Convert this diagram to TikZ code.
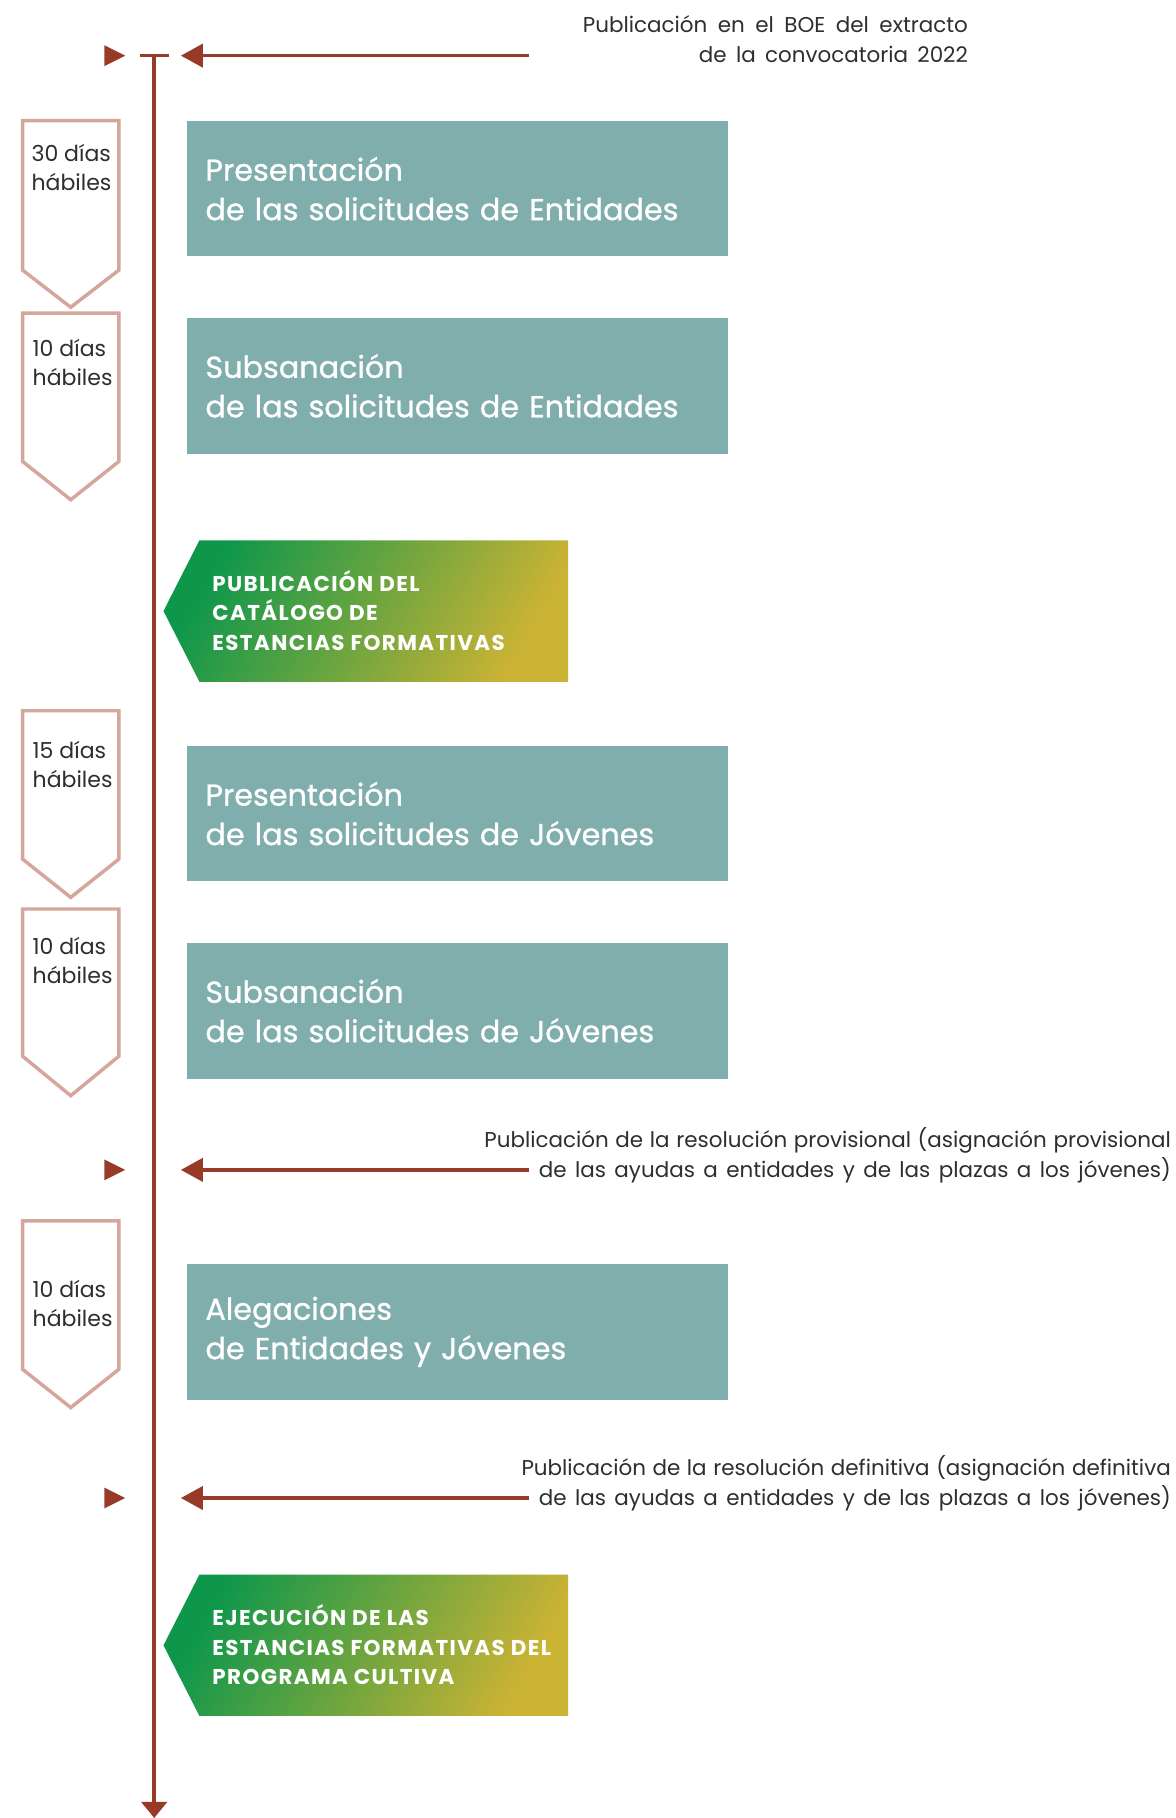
\documentclass[tikz,border=0pt]{standalone}
\usepackage{fontspec}
\setmainfont{Poppins}
\newfontfamily\bannerfont[LetterSpace=6.5]{Poppins}
\newfontfamily\tealfont[FakeBold=0.9]{Poppins}
\usetikzlibrary{arrows.meta}
\definecolor{linered}{HTML}{983A28}
\definecolor{pinkline}{HTML}{D5A69B}
\definecolor{tealbg}{HTML}{80AEAC}
\definecolor{gstart}{HTML}{0E974B}
\definecolor{gend}{HTML}{CBB334}
\definecolor{txtgray}{HTML}{2E2E2E}
\newcommand\dayshape[3]{\draw[dayframe] (19.5,#1) -- (102.5,#1) -- (102.5,#2) -- (61,#3) -- (19.5,#2) -- cycle;}
\newcommand\bannershape[2]{\shade[bannerfill] (172,#1) -- (490,#1) -- (490,#2) -- (172,#2) -- (141,{(#1+#2)/2}) -- cycle;}
\newcommand\markershape[1]{\fill[linered] (90,#1-9) -- (108,#1) -- (90,#1+9) -- cycle;}
\newcommand\jline[2]{\makebox[#1pt][s]{#2}}
\begin{document}
\begin{tikzpicture}[x=1pt,y=-1pt,
  tealbox/.style={fill=tealbg, anchor=north west, minimum height=117pt, text width=435pt, inner xsep=16pt, inner ysep=0pt, align=left, text=white, font=\tealfont\fontsize{26.1}{34}\selectfont},
  dayframe/.style={draw=pinkline, line width=3pt, fill=white},
  daytext/.style={anchor=west, align=left, text=txtgray, font=\fontsize{19}{25}\selectfont, inner sep=0pt},
  bannerfill/.style={left color=gstart, right color=gend, shading angle=60},
  bannertext/.style={anchor=west, align=left, text=white, font=\bannerfont\bfseries\fontsize{18.5}{25.5}\selectfont, inner sep=0pt},
  note/.style={anchor=east, align=right, text=txtgray, font=\fontsize{18.5}{26}\selectfont, inner sep=0pt},
  tl/.style={draw=linered, line width=3pt}]
\useasboundingbox (0,0) rectangle (1014,1568);

% main timeline
\coordinate (tlTop) at (133,48);
\coordinate (tlBot) at (133,1568);
\draw[tl, -{Triangle[width=22pt,length=14pt]}] (tlTop) -- (tlBot);
\coordinate (barL) at (121,48);
\coordinate (barR) at (146,48);
\draw[tl] (barL) -- (barR);

% event arrows
\markershape{48}
\coordinate (a1s) at (456,48);
\coordinate (a1e) at (156,48);
\draw[tl, -{Triangle[width=20pt,length=19pt]}] (a1s) -- (a1e);
\node[note] (n1) at (835,34) {\jline{332}{Publicación en el BOE del extracto}\\\jline{232}{de la convocatoria 2022}};

\markershape{1009}
\coordinate (a2s) at (456,1009);
\coordinate (a2e) at (156,1009);
\draw[tl, -{Triangle[width=20pt,length=19pt]}] (a2s) -- (a2e);
\node[note] (n2) at (1010,996.5) {\jline{592}{Publicación de la resolución provisional (asignación provisional}\\\jline{545}{de las ayudas a entidades y de las plazas a los jóvenes)}};

\markershape{1292}
\coordinate (a3s) at (456,1292);
\coordinate (a3e) at (156,1292);
\draw[tl, -{Triangle[width=20pt,length=19pt]}] (a3s) -- (a3e);
\node[note] (n3) at (1010,1279.5) {\jline{560}{Publicación de la resolución definitiva (asignación definitiva}\hspace{9pt}\\\jline{545}{de las ayudas a entidades y de las plazas a los jóvenes)}};

% day markers
\dayshape{104}{233}{265}
\node[daytext] (d1) at (27,144.5) {30 días\\hábiles};
\dayshape{270}{398}{431}
\node[daytext] (d2) at (28,312.5) {10 días\\hábiles};
\dayshape{613}{741}{774}
\node[daytext] (d3) at (28,659.5) {15 días\\hábiles};
\dayshape{784}{911}{945}
\node[daytext] (d4) at (28,828.5) {10 días\\hábiles};
\dayshape{1053}{1181}{1214}
\node[daytext] (d5) at (28,1124) {10 días\\hábiles};

% teal boxes
\node[tealbox] (t1) at (161,104) {Presentación\\de las solicitudes de Entidades};
\node[tealbox] (t2) at (161,274) {Subsanación\\de las solicitudes de Entidades};
\node[tealbox] (t3) at (161,643) {Presentación\\de las solicitudes de Jóvenes};
\node[tealbox] (t4) at (161,813) {Subsanación\\de las solicitudes de Jóvenes};
\node[tealbox] (t5) at (161,1090) {Alegaciones\\de Entidades y Jóvenes};

% banners
\bannershape{466}{588}
\node[bannertext] (b1) at (183,526.5) {PUBLICACIÓN DEL\\CATÁLOGO DE\\ESTANCIAS FORMATIVAS};
\bannershape{1358}{1480}
\node[bannertext] (b2) at (183,1418.5) {EJECUCIÓN DE LAS\\ESTANCIAS FORMATIVAS DEL\\PROGRAMA CULTIVA};
\end{tikzpicture}
\end{document}
